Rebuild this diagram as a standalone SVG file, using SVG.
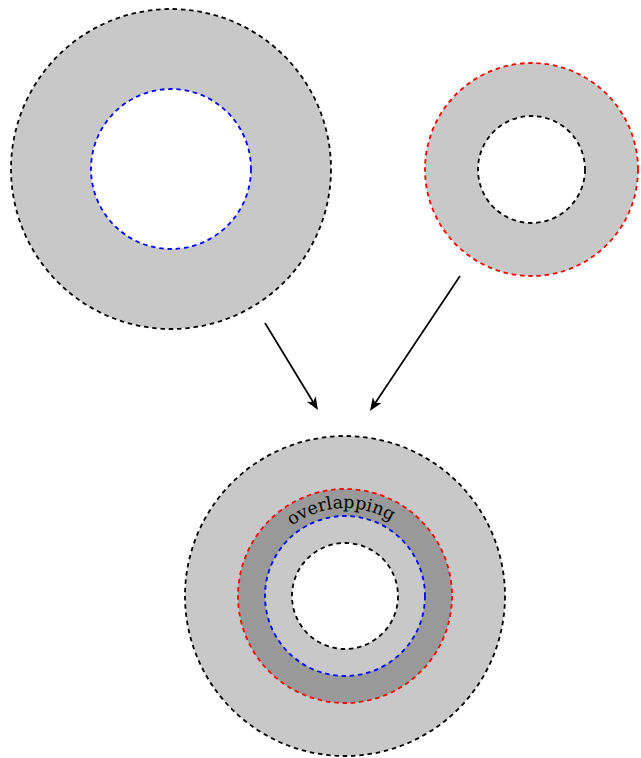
<svg xmlns="http://www.w3.org/2000/svg" width="641" height="758" viewBox="0 0 641 758">
<style>
.d{stroke-width:1.8;stroke-dasharray:4.5 3.8;}
.k{stroke:#000;}
.r{stroke:#ff0000;}
.b{stroke:#0000ff;}
.g{fill:#c8c8c8;}
.dg{fill:#999999;}
.w{fill:#ffffff;}
.arr{fill:none;stroke:#000;stroke-width:1.7;marker-end:url(#stealth);}
.lbl{font-family:"DejaVu Serif","Liberation Serif",serif;font-size:17.5px;fill:#000;}
</style>
<defs>
<marker id="stealth" viewBox="-6 -7 16 14" refX="0" refY="0" markerWidth="16" markerHeight="14" markerUnits="userSpaceOnUse" orient="auto">
<path d="M8,0 L-5,-5.2 L-1.5,0 L-5,5.2 Z" fill="#000"/>
</marker>
<path id="arcText" d="M257,596 A88,88 0 0 1 433,596" fill="none"/>
</defs>
<rect width="641" height="758" fill="#fff"/>
<g id="ringA">
<circle cx="171" cy="169" r="160" class="g d k"/>
<circle cx="171" cy="169" r="80" class="w d b"/>
</g>
<g id="ringB">
<circle cx="531.5" cy="169.5" r="106.5" class="g d r"/>
<circle cx="531.5" cy="169.5" r="53.5" class="w d k"/>
</g>
<g id="combined">
<circle cx="345" cy="596" r="160" class="g d k"/>
<circle cx="345" cy="596" r="107" class="dg d r"/>
<circle cx="345" cy="596" r="80" class="g d b"/>
<circle cx="345" cy="596" r="53" class="w d k"/>
<text class="lbl"><textPath href="#arcText" startOffset="48.5%" text-anchor="middle">overlapping</textPath></text>
</g>
<g id="connectors">
<path class="arr" d="M265,323 L313.8,403.2"/>
<path class="arr" d="M460,276 L374.4,404.3"/>
</g>
</svg>
